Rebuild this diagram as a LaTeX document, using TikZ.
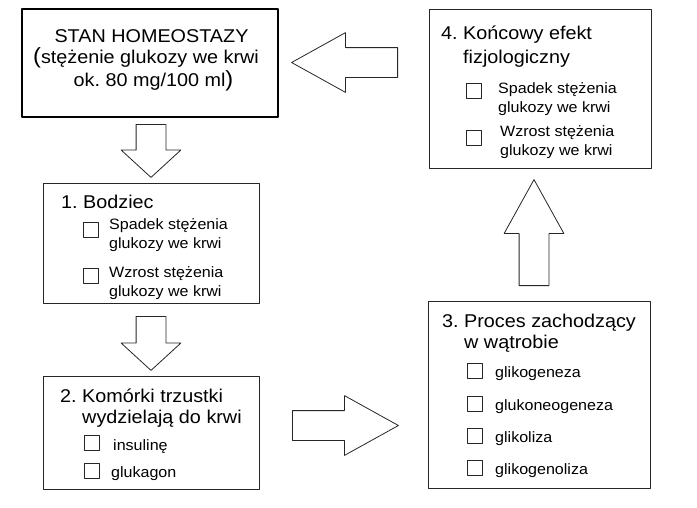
\documentclass[tikz,border=0pt]{standalone}
\usepackage{fontspec}
\setmainfont{Liberation Sans}[FakeStretch=1.07]
\usetikzlibrary{shapes.arrows}

\tikzset{
  box/.style={draw=black!85, line width=0.9pt, inner sep=0pt},
  chk/.style={draw=black!85, line width=0.8pt, minimum size=15pt, inner sep=0pt},
  title/.style={anchor=base west, inner sep=0pt, align=left, font=\fontsize{18.5}{21}\selectfont},
  item/.style={anchor=base west, inner sep=0pt, align=left, font=\fontsize{15}{19}\selectfont},
  blok/.style={single arrow, draw=black!85, line width=0.8pt, inner xsep=0pt, inner ysep=14.5pt, single arrow head extend=15pt, anchor=tail},
}

\begin{document}
\frenchspacing
\begin{tikzpicture}[x=1pt, y=-1pt, line join=round,
    head/.style={anchor=base, inner sep=0pt, font=\fontsize{18.5}{21}\selectfont}]
\useasboundingbox (0,0) rectangle (697,507);

% ramki
\node[box, draw=black, line width=1.8pt, minimum width=256pt, minimum height=108pt] (stan) at (150,63) {};
\node[box, minimum width=216pt, minimum height=120pt] (bodziec) at (151,243) {};
\node[box, minimum width=216pt, minimum height=113pt] (trzustka) at (151,432.5) {};
\node[box, minimum width=222pt, minimum height=187pt] (watroba) at (539,394.5) {};
\node[box, minimum width=222pt, minimum height=159pt] (efekt) at (540,88.5) {};

% strzalki
\node[blok, rotate=-90, minimum height=53pt, single arrow tip angle=95] (sA) at (151,124) {};
\node[blok, rotate=-90, minimum height=54pt, single arrow tip angle=95] (sB) at (151,316) {};
\node[blok, minimum height=106pt, single arrow tip angle=58] (sC) at (292,425.5) {};
\node[blok, rotate=90, minimum height=106pt, single arrow tip angle=58] (sD) at (534,286) {};
\node[blok, rotate=180, minimum height=106pt, single arrow tip angle=58] (sE) at (398,62.5) {};

% stan homeostazy
\node[head] (stanA) at (151.5,42) {STAN HOMEOSTAZY};
\node[head] (stanB) at (146,63) {{\fontsize{22}{22}\selectfont(}stężenie glukozy we krwi};
\node[head] (stanC) at (153.5,86) {ok. 80 mg/100 ml{\fontsize{22}{22}\selectfont)}};

% 1. bodziec
\node[title] (bodziecT) at (61,208) {1. Bodziec};
\node[chk] (b1) at (91,229.5) {};
\node[item] (b1t) at (109,248) {Spadek stężenia\\glukozy we krwi};
\node[chk] (b2) at (91,275.5) {};
\node[item] (b2t) at (109,296) {Wzrost stężenia\\glukozy we krwi};

% 2. trzustka
\node[title] (trzustkaT) at (60,423) {2. Komórki trzustki\\\phantom{2. }wydzielają do krwi};
\node[chk] (k1) at (91.5,442.5) {};
\node[item] (k1t) at (113,450) {insulinę};
\node[chk] (k2) at (91.5,471) {};
\node[item] (k2t) at (111,477) {glukagon};

% 3. watroba
\node[title] (watrobaT) at (442,348) {3. Proces zachodzący\\\phantom{3. }w wątrobie};
\foreach \y/\t [count=\i] in {370.5/glikogeneza, 403.5/glukoneogeneza, 435.5/glikoliza, 468/glikogenoliza}{
  \node[chk] (w\i) at (475,\y) {};
  \node[item] (wt\i) at (495,\y+6.5) {\t};
}

% 4. efekt
\node[title, font=\fontsize{18.5}{24}\selectfont] (efektT) at (441,63) {4. Końcowy efekt\\\phantom{4. }fizjologiczny};
\node[chk] (e1) at (473.5,90.5) {};
\node[item] (e1t) at (498,112) {Spadek stężenia\\glukozy we krwi};
\node[chk] (e2) at (473.5,138) {};
\node[item] (e2t) at (500,155) {Wzrost stężenia\\glukozy we krwi};
\end{tikzpicture}
\end{document}
